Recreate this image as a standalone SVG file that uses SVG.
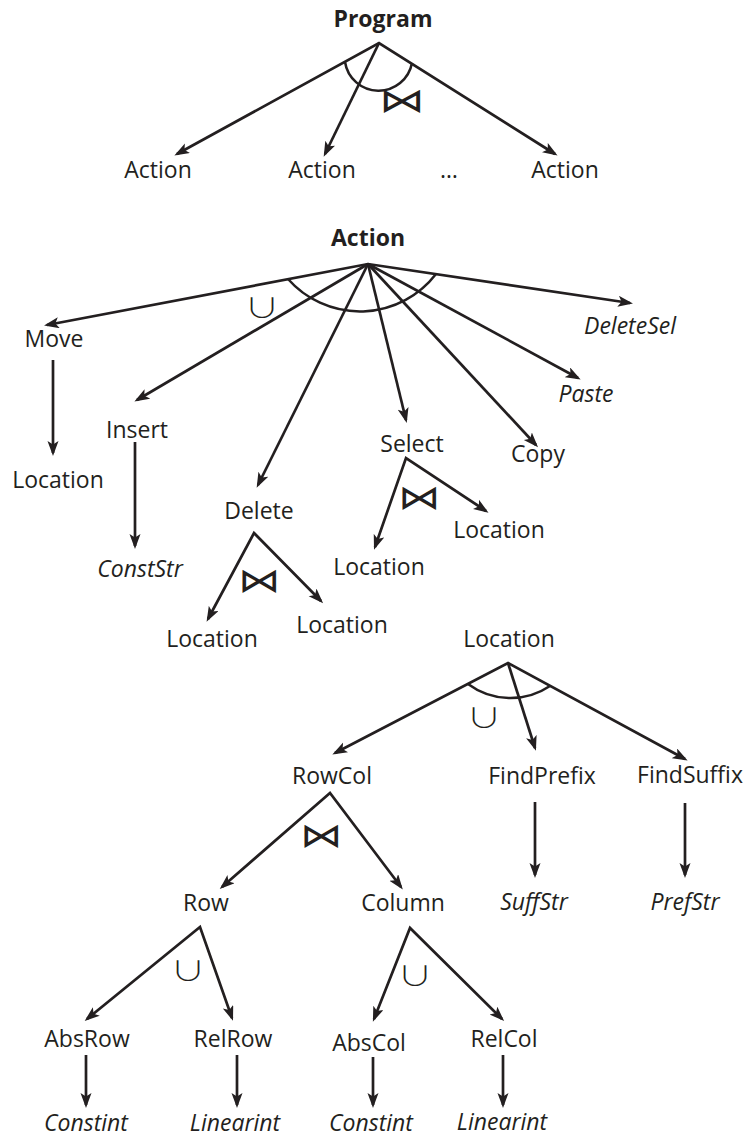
<svg xmlns="http://www.w3.org/2000/svg" width="746" height="1139" viewBox="0 0 746 1139">
<style>
  text { font-family: "Open Sans", "Liberation Sans", sans-serif; font-size: 23px; fill: #231f20; text-anchor: middle; }
  .b { font-weight: bold; }
  .i { font-style: italic; }
  .op { font-family: "Noto Sans CJK JP", "DejaVu Sans", sans-serif; font-weight: 300; }
  .bt { font-size: 34px; }
  .un { font-size: 27px; }
  .e { fill: none; stroke: #231f20; stroke-width: 2.7; stroke-linejoin: miter; }
  .a { marker-end: url(#ah); }
  .f { marker-start: url(#ah); marker-end: url(#ah); }
  .arc { fill: none; stroke: #231f20; stroke-width: 2.5; }
</style>
<defs>
  <marker id="ah" markerUnits="userSpaceOnUse" markerWidth="18" markerHeight="12" refX="12" refY="5.5" orient="auto-start-reverse">
    <path d="M0,0 L15,5.5 L0,11 L3.5,5.5 Z" fill="#231f20"/>
  </marker>
</defs>

<g id="connectors">
  <!-- Program -->
  <path class="e f" d="M177,154 L379,43 L555,154"/>
  <path class="e a" d="M379,43 L325,154"/>
  <path class="arc" d="M345,62 A34 34 0 0 0 412,63"/>
  <!-- Action -->
  <path class="e f" d="M47,325 L368,264 L630,303"/>
  <path class="e a" d="M368,264 L137,400"/>
  <path class="e a" d="M368,264 L258,485"/>
  <path class="e a" d="M368,264 L406,420"/>
  <path class="e a" d="M368,264 L536,445"/>
  <path class="e a" d="M368,264 L578,378"/>
  <path class="arc" d="M288,279 A96 96 0 0 0 436,274"/>
  <path class="e a" d="M53,360 L53,453"/>
  <path class="e a" d="M135,442 L135,546"/>
  <path class="e f" d="M208,619 L254,533 L321,601"/>
  <path class="e f" d="M375,547 L406,458 L486,511"/>
  <!-- Location -->
  <path class="e f" d="M335,753 L508,663 L685,759"/>
  <path class="e a" d="M508,663 L535,748"/>
  <path class="arc" d="M468,684 A71 71 0 0 0 550,686"/>
  <path class="e a" d="M535,802 L535,875"/>
  <path class="e a" d="M685,803 L685,875"/>
  <path class="e f" d="M222,887 L330,793 L401,887"/>
  <path class="e f" d="M87,1019 L200,927 L232,1018"/>
  <path class="e f" d="M374,1019 L410,928 L502,1019"/>
  <path class="e a" d="M86,1055 L86,1105"/>
  <path class="e a" d="M237,1055 L237,1105"/>
  <path class="e a" d="M373,1057 L373,1105"/>
  <path class="e a" d="M503,1055 L503,1105"/>
</g>

<g id="operators">
  <text class="op bt" transform="translate(402,97) scale(1.35,1)" dominant-baseline="central">⋈</text>
  <text class="op bt" transform="translate(259,577) scale(1.25,1)" dominant-baseline="central">⋈</text>
  <text class="op bt" transform="translate(419,494) scale(1.25,1)" dominant-baseline="central">⋈</text>
  <text class="op bt" transform="translate(321,832) scale(1.25,1)" dominant-baseline="central">⋈</text>
  <text class="op un" transform="translate(262,306) scale(1.3,1)" dominant-baseline="central">∪</text>
  <text class="op un" transform="translate(484,716) scale(1.3,1)" dominant-baseline="central">∪</text>
  <text class="op un" transform="translate(188,969) scale(1.3,1)" dominant-baseline="central">∪</text>
  <text class="op un" transform="translate(415,974) scale(1.3,1)" dominant-baseline="central">∪</text>
</g>

<g id="n-program"><text class="b" x="383" y="27">Program</text></g>
<g id="n-action1"><text x="158" y="178">Action</text></g>
<g id="n-action2"><text x="322" y="178">Action</text></g>
<g id="n-ellipsis"><text x="449" y="178">…</text></g>
<g id="n-action3"><text x="565" y="178">Action</text></g>

<g id="n-action"><text class="b" x="368" y="246">Action</text></g>
<g id="n-move"><text x="54" y="347">Move</text></g>
<g id="n-move-loc"><text x="58" y="488">Location</text></g>
<g id="n-insert"><text x="137" y="438">Insert</text></g>
<g id="n-conststr"><text class="i" x="140" y="577">ConstStr</text></g>
<g id="n-delete"><text x="259" y="519">Delete</text></g>
<g id="n-del-loc1"><text x="212" y="647">Location</text></g>
<g id="n-del-loc2"><text x="342" y="633">Location</text></g>
<g id="n-select"><text x="412" y="452">Select</text></g>
<g id="n-sel-loc1"><text x="379" y="575">Location</text></g>
<g id="n-sel-loc2"><text x="499" y="538">Location</text></g>
<g id="n-copy"><text x="538" y="462">Copy</text></g>
<g id="n-paste"><text class="i" x="586" y="402">Paste</text></g>
<g id="n-deletesel"><text class="i" x="630" y="334">DeleteSel</text></g>

<g id="n-location"><text x="509" y="647">Location</text></g>
<g id="n-rowcol"><text x="332" y="784">RowCol</text></g>
<g id="n-findprefix"><text x="542" y="784">FindPrefix</text></g>
<g id="n-findsuffix"><text x="690" y="783">FindSuffix</text></g>
<g id="n-suffstr"><text class="i" x="534" y="910">SuffStr</text></g>
<g id="n-prefstr"><text class="i" x="685" y="910">PrefStr</text></g>
<g id="n-row"><text x="206" y="911">Row</text></g>
<g id="n-column"><text x="403" y="911">Column</text></g>
<g id="n-absrow"><text x="87" y="1047">AbsRow</text></g>
<g id="n-relrow"><text x="233" y="1047">RelRow</text></g>
<g id="n-abscol"><text x="369" y="1051">AbsCol</text></g>
<g id="n-relcol"><text x="504" y="1047">RelCol</text></g>
<g id="n-constint1"><text class="i" x="86" y="1131">Constint</text></g>
<g id="n-linearint1"><text class="i" x="235" y="1131">Linearint</text></g>
<g id="n-constint2"><text class="i" x="371" y="1131">Constint</text></g>
<g id="n-linearint2"><text class="i" x="502" y="1130">Linearint</text></g>
</svg>
